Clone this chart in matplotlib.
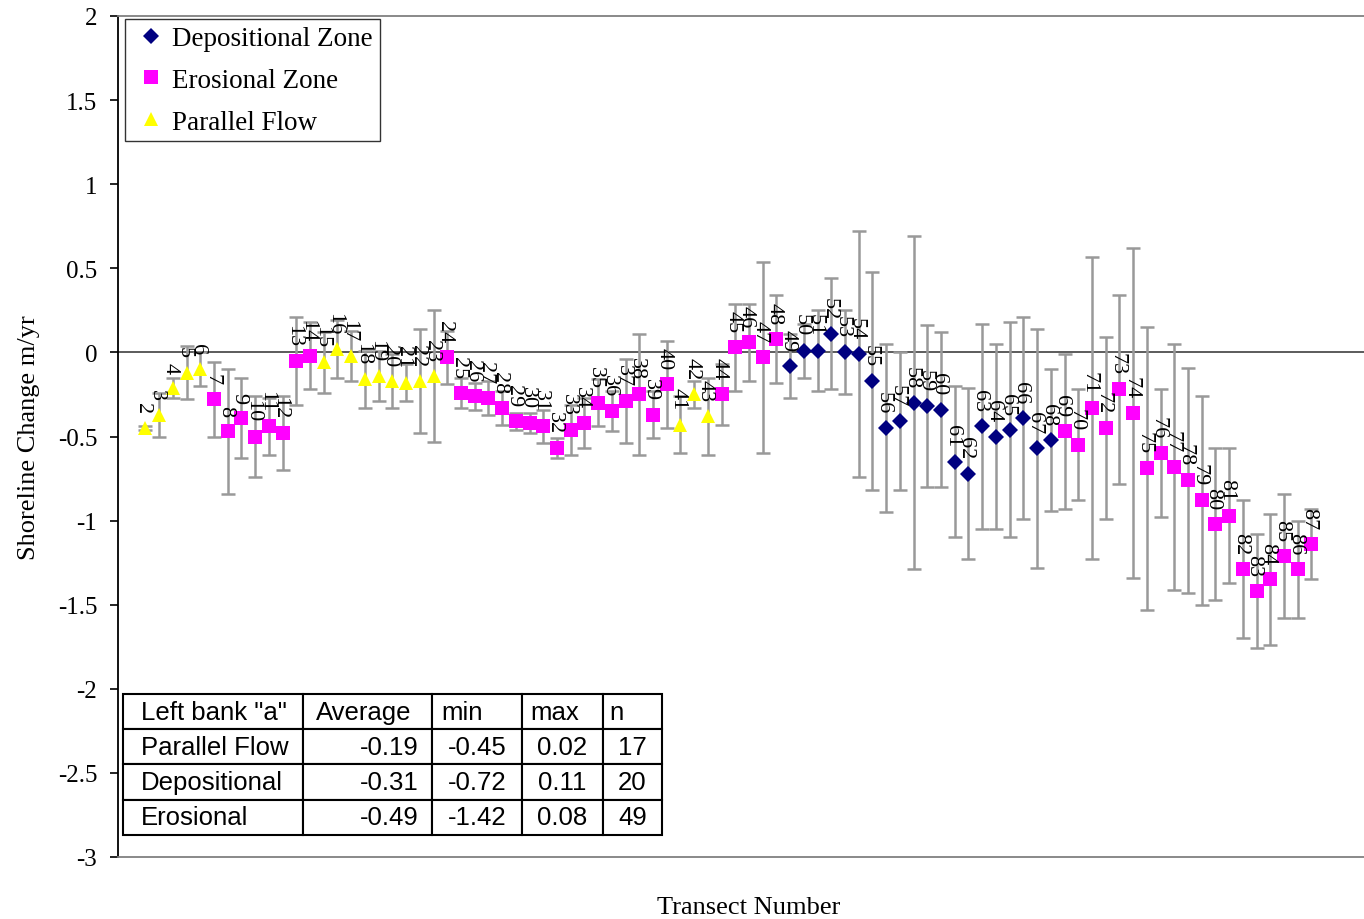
import matplotlib
matplotlib.use('Agg')
import matplotlib.pyplot as plt
from matplotlib.table import Table

# Shoreline change rate per transect (m/yr) and its error bar half-width
transects = list(range(2, 88))
rates = [
    -0.45, -0.37, -0.21, -0.12, -0.10, -0.28, -0.47, -0.39, -0.50, -0.44,
    -0.48, -0.05, -0.02, -0.06, 0.02, -0.02, -0.16, -0.14, -0.17, -0.18,
    -0.17, -0.14, -0.03, -0.24, -0.26, -0.27, -0.33, -0.41, -0.42, -0.44,
    -0.57, -0.46, -0.42, -0.30, -0.35, -0.29, -0.25, -0.37, -0.19, -0.43,
    -0.25, -0.38, -0.25, 0.03, 0.06, -0.03, 0.08, -0.08, 0.01, 0.01,
    0.11, 0.00, -0.01, -0.17, -0.45, -0.41, -0.30, -0.32, -0.34, -0.65,
    -0.72, -0.44, -0.50, -0.46, -0.39, -0.57, -0.52, -0.47, -0.55, -0.33,
    -0.45, -0.22, -0.36, -0.69, -0.60, -0.68, -0.76, -0.88, -1.02, -0.97,
    -1.29, -1.42, -1.35, -1.21, -1.29, -1.14,
]
errors = [
    0.01, 0.13, 0.06, 0.16, 0.10, 0.22, 0.37, 0.24, 0.24, 0.17,
    0.22, 0.26, 0.20, 0.18, 0.17, 0.15, 0.17, 0.15, 0.16, 0.11,
    0.31, 0.39, 0.16, 0.09, 0.08, 0.10, 0.10, 0.05, 0.06, 0.10,
    0.06, 0.15, 0.15, 0.14, 0.12, 0.25, 0.36, 0.14, 0.26, 0.17,
    0.08, 0.23, 0.18, 0.26, 0.23, 0.57, 0.26, 0.19, 0.16, 0.24,
    0.33, 0.25, 0.73, 0.65, 0.50, 0.41, 0.99, 0.48, 0.46, 0.45,
    0.51, 0.61, 0.55, 0.64, 0.60, 0.71, 0.42, 0.46, 0.33, 0.90,
    0.54, 0.56, 0.98, 0.84, 0.38, 0.73, 0.67, 0.62, 0.45, 0.40,
    0.41, 0.34, 0.39, 0.37, 0.29, 0.21,
]
# Zone of each transect: P = parallel flow, E = erosional, D = depositional
zones = (['P'] * 5 + ['E'] * 8 + ['P'] * 9 + ['E'] * 17 + ['P'] * 3
         + ['E'] * 5 + ['D'] * 20 + ['E'] * 19)

zone_order = ['D', 'E', 'P']
zone_names = {'D': 'Depositional Zone', 'E': 'Erosional Zone', 'P': 'Parallel Flow'}

y_ticks = [-3, -2.5, -2, -1.5, -1, -0.5, 0, 0.5, 1, 1.5, 2]
y_tick_labels = ['-3', '-2.5', '-2', '-1.5', '-1', '-0.5', '0', '0.5', '1', '1.5', '2']

table_header = ['Left bank "a"', 'Average', 'min', 'max', 'n']
table_rows = [
    ['Parallel Flow', '-0.19', '-0.45', '0.02', '17'],
    ['Depositional', '-0.31', '-0.72', '0.11', '20'],
    ['Erosional', '-0.49', '-1.42', '0.08', '49'],
]

# marker, colour, size for each zone
zone_style = {
    'D': ('D', '#000080', 8.0),
    'E': ('s', '#FF00FF', 9.5),
    'P': ('^', '#FFFF00', 9.5),
}


def add_stats_table(ax):
    """Draws the summary table in the lower left corner of the plot."""
    col_widths = [180, 129, 90, 81, 59]
    col_locs = ['right', 'center', 'center', 'center']
    tb = Table(ax, bbox=[0.004, 0.026, 0.427, 0.168])
    n_rows = len(table_rows) + 1
    for r in range(n_rows):
        row = table_header if r == 0 else table_rows[r - 1]
        for c, text in enumerate(row):
            if r == 0 or c == 0:
                loc = 'left'
            else:
                loc = col_locs[c - 1]
            cell = tb.add_cell(r, c, col_widths[c], 1, text=text, loc=loc,
                               facecolor='white', edgecolor='black')
            cell.set_linewidth(1.5)
            cell.get_text().set_fontfamily('Liberation Sans')
    tb.auto_set_font_size(False)
    tb.set_fontsize(18.5)
    ax.add_table(tb)


def plot_shoreline(output_file='out.png'):
    plt.rcParams['font.family'] = 'Liberation Serif'
    fig = plt.figure(figsize=(13.64, 9.2), dpi=100)
    ax = fig.add_axes([118 / 1364, 62 / 920, 1262 / 1364, 841 / 920])

    # error bars first, markers on top
    ax.errorbar(transects, rates, yerr=errors, fmt='none', ecolor='#999999',
                elinewidth=1.8, capsize=5, capthick=1.8, zorder=2)

    for z in zone_order:
        xs = [t for t, zz in zip(transects, zones) if zz == z]
        ys = [v for v, zz in zip(rates, zones) if zz == z]
        marker, color, ms = zone_style[z]
        ax.plot(xs, ys, linestyle='none', marker=marker, color=color,
                markersize=ms, markeredgewidth=0, label=zone_names[z], zorder=3)

    # transect number labels above each point
    for t, v in zip(transects, rates):
        ax.annotate(str(t), (t, v), xytext=(-2.5, 15), textcoords='offset pixels',
                    rotation=270, ha='center', va='bottom', fontsize=16,
                    zorder=4)

    ax.axhline(0, color='#404040', linewidth=1.2, zorder=1)

    ax.set_xlim(0, 92)
    ax.set_ylim(-3, 2)
    ax.set_xticks([])
    ax.set_yticks(y_ticks)
    ax.set_yticklabels(y_tick_labels)
    ax.tick_params(axis='y', direction='out', length=6, width=1.2, pad=9,
                   labelsize=18)

    ax.spines['right'].set_visible(False)
    ax.spines['top'].set_color('#808080')
    ax.spines['bottom'].set_color('#808080')
    ax.spines['left'].set_color('black')
    for s in ['top', 'bottom', 'left']:
        ax.spines[s].set_linewidth(1.3)

    ax.set_ylabel('Shoreline Change m/yr', fontsize=19, labelpad=13)
    ax.set_xlabel('Transect Number', fontsize=19, labelpad=28)

    leg = ax.legend(loc='upper left', bbox_to_anchor=(0.0055, 0.996),
                    borderaxespad=0, fontsize=19.5, frameon=True, fancybox=False,
                    edgecolor='black', handlelength=1.4, handletextpad=0.1,
                    borderpad=0.25, labelspacing=0.62)
    leg.get_frame().set_linewidth(1.0)
    leg.set_zorder(5)

    add_stats_table(ax)

    fig.savefig(output_file, dpi=100)


def main():
    plot_shoreline('out.png')


if __name__ == '__main__':
    main()
